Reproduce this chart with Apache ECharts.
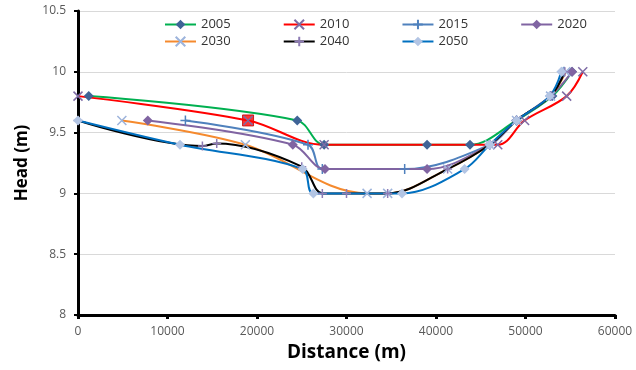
<!DOCTYPE html>
<html><head><meta charset="utf-8">
<script src="https://cdn.jsdelivr.net/npm/echarts@6/dist/echarts.min.js"></script>
<style>html,body{margin:0;padding:0;background:#fff}#c{width:636px;height:370px}</style>
</head><body><div id="c"></div>
<script>
// Data (distance m, head m)
const years = ['2005','2010','2015','2020','2030','2040','2050'];
const s2005 = [[1200,9.8],[24500,9.6],[27500,9.4],[39000,9.4],[43800,9.4],[49000,9.6],[53000,9.8],[55200,10.0]];
const s2010 = [[0,9.8],[19000,9.6],[27500,9.4],[46900,9.4],[49900,9.6],[54600,9.8],[56400,10.0]];
const s2015 = [[12000,9.6],[25700,9.4],[27300,9.2],[36500,9.2],[46000,9.4],[49000,9.6],[52800,9.8],[54300,10.0]];
const s2020 = [[7800,9.6],[24000,9.4],[27600,9.2],[39000,9.2],[46000,9.4],[49000,9.6],[52800,9.8],[55200,10.0]];
const s2030 = [[4900,9.6],[18700,9.4],[32300,9.0],[34600,9.0],[41300,9.2],[46000,9.4],[49000,9.6],[52800,9.8],[54500,10.0]];
const s2040 = [[0,9.6],[13900,9.39],[15500,9.41],[25000,9.22],[27300,9.0],[30000,9.0],[34600,9.0],[41300,9.2],[46000,9.4],[49000,9.6],[52800,9.8],[54400,10.0]];
const s2050 = [[0,9.6],[11400,9.4],[25100,9.2],[26300,9.0],[36200,9.0],[43200,9.2],[46000,9.4],[49000,9.6],[52700,9.8],[54000,10.0]];
const highlight2010 = [[19000,9.6]];
const yMin = 8, yMax = 10.5, yStep = 0.5;
const xMin = 0, xMax = 60000, xStep = 10000;

const X = 'path://M0,0L10,10M10,0L0,10';
const PLUS = 'path://M5,0L5,10M0,5L10,5';
const font = '"Open Sans", "DejaVu Sans", sans-serif';

function mk(name, data, lineColor, symbol, symColor, size, stroke) {
  return {
    name: name, type: 'line', data: data, smooth: 0.35,
    symbol: symbol, symbolSize: size,
    lineStyle: {color: lineColor, width: 2},
    itemStyle: stroke ? {color: symColor, borderColor: symColor, borderWidth: 1.5}
                      : {color: symColor, borderWidth: 0},
    emphasis: {disabled: true}
  };
}
const series = [
  mk('2005', s2005, '#00b050', 'diamond', '#3f6497', 10, false),
  mk('2010', s2010, '#ff0000', X, '#7f6ca6', 9, true),
  mk('2015', s2015, '#4f81bd', PLUS, '#4f81bd', 10, true),
  mk('2020', s2020, '#8064a2', 'diamond', '#8064a2', 10, false),
  mk('2030', s2030, '#f58a2e', X, '#9db4dc', 9, true),
  mk('2040', s2040, '#000000', PLUS, '#8d7bb4', 9, true),
  mk('2050', s2050, '#0070c0', 'diamond', '#b3c5e4', 10, false),
  {type:'scatter', data: highlight2010, symbol:'rect', symbolSize: 11,
   itemStyle:{color:'#ff0000', borderColor:'#c00000', borderWidth:1}, z: 1, emphasis:{disabled:true}}
];

const chart = echarts.init(document.getElementById('c'), null, {renderer:'canvas'});
const legendBase = {
  orient:'horizontal', left: 164, itemWidth: 31, itemHeight: 12, itemGap: 52,
  textStyle:{fontFamily: font, fontSize: 13, color:'#333'}, padding: 0,
  selectedMode: false
};
chart.setOption({
  animation: false,
  backgroundColor: '#fff',
  legend: [
    Object.assign({}, legendBase, {top: 18, data: years.slice(0,4)}),
    Object.assign({}, legendBase, {top: 35, data: years.slice(4)})
  ],
  grid: {left: 78, right: 21, top: 11, bottom: 55, containLabel: false},
  xAxis: {
    type:'value', min: xMin, max: xMax, interval: xStep,
    name: 'Distance (m)', nameLocation:'middle', nameGap: 28,
    nameTextStyle:{fontFamily: font, fontSize: 19, fontWeight:'bold', color:'#000'},
    axisLine:{show:true, onZero:false, lineStyle:{color:'#000', width:3}},
    axisTick:{show:true, length:4, lineStyle:{color:'#000', width:3}},
    axisLabel:{fontFamily: font, fontSize: 12, color:'#595959', margin: 11,
               formatter: function (v) { return String(v); }},
    splitLine:{show:false}
  },
  yAxis: {
    type:'value', min: yMin, max: yMax, interval: yStep,
    name: 'Head (m)', nameLocation:'middle', nameGap: 47, nameRotate: 90,
    nameTextStyle:{fontFamily: font, fontSize: 17, fontWeight:'bold', color:'#000'},
    axisLine:{show:true, onZero:false, lineStyle:{color:'#000', width:3}},
    axisTick:{show:true, length:4, lineStyle:{color:'#000', width:2}},
    axisLabel:{fontFamily: font, fontSize: 12, color:'#595959', margin: 12},
    splitLine:{show:true, lineStyle:{color:'#d9d9d9', width:1}}
  },
  series: series
});
</script></body></html>
